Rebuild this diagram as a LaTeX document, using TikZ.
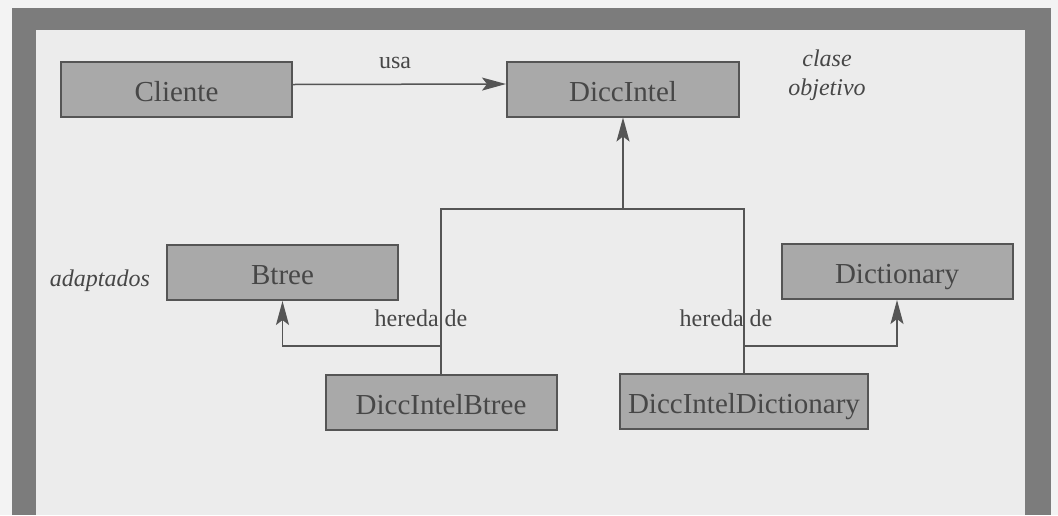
\documentclass[tikz,border=0pt]{standalone}
\usepackage{fontspec}
\setmainfont{Liberation Serif}
\usepackage{tikz}
\usetikzlibrary{arrows.meta}

\definecolor{papel}{HTML}{F3F3F3}
\definecolor{marco}{HTML}{7C7C7C}
\definecolor{fondo}{HTML}{ECECEC}
\definecolor{relleno}{HTML}{A9A9A9}
\definecolor{trazo}{HTML}{555555}
\definecolor{texto}{HTML}{474747}

\tikzset{
  clase/.style={draw=trazo, line width=2pt, fill=relleno, text=texto,
    minimum width=231pt, minimum height=55pt, inner sep=0pt,
    text height=24pt, text depth=0pt,
    font=\fontsize{29}{31}\selectfont},
  rotulo/.style={text=texto, inner sep=0pt, font=\fontsize{24}{29}\selectfont},
  nota/.style={rotulo, font=\fontsize{24}{29}\selectfont\itshape, align=center},
  linea/.style={draw=trazo, line width=1.5pt},
  flecha/.style={linea, -{Stealth[length=24pt,width=13pt,inset=5pt]}}
}

\begin{document}
\begin{tikzpicture}[x=1pt,y=-1pt]
        \useasboundingbox (0,0) rectangle (1058,515);
        \fill[papel] (0,0) rectangle (1058,515);
        \fill[marco] (12,8) rectangle (1051,515); % Marco
        \fill[fondo] (36,30) rectangle (1025,515);

        \node[clase] (Cliente) at (176.5,89.5) {Cliente};
        \node[clase,minimum width=232pt] (DiccIntel) at (623,89) {DiccIntel};
        \node[clase] (Btree) at (282.5,272.5) {Btree};
        \node[clase] (Dictionary) at (897,271.5) {Dictionary};
        \node[clase] (DiccIntelBtree) at (441,402.5) {DiccIntelBtree};
        \node[clase,minimum width=248pt] (DiccIntelDictionary) at (744,401) {DiccIntelDictionary};

        \node[rotulo] (usa) at (395,63) {usa};
        \node[nota] (objetivo) at (827,75) {clase\\objetivo};
        \node[nota] (adaptados) at (100,281) {adaptados};
        \node[rotulo] (heredaB) at (421,318) {hereda de};
        \node[rotulo] (heredaD) at (726,318) {hereda de};

        \coordinate (barra) at (0,209);
        \coordinate (rama) at (0,346);

        \draw[flecha] ([yshift=5pt]Cliente.east) -- ([yshift=5pt]DiccIntel.west);
        \draw[linea] (DiccIntelBtree.north) -- (DiccIntelBtree.north |- barra)
          -- (DiccIntelDictionary.north |- barra) -- (DiccIntelDictionary.north);
        \draw[flecha] (DiccIntel.south |- barra) -- (DiccIntel.south);
        \draw[flecha] (DiccIntelBtree.north |- rama) -| (Btree.south);
        \draw[flecha] (DiccIntelDictionary.north |- rama) -| (Dictionary.south);
      \end{tikzpicture}
\end{document}
